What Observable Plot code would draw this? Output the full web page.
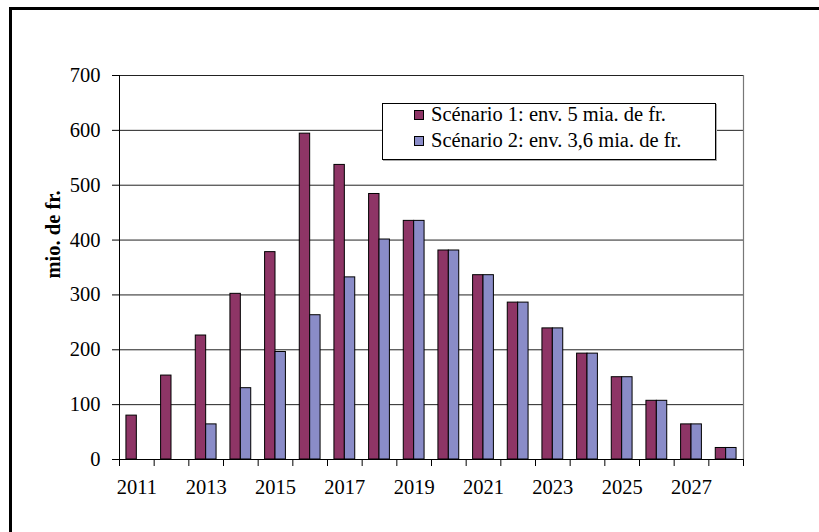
<!DOCTYPE html>
<html>
<head>
<meta charset="utf-8">
<script src="https://cdn.jsdelivr.net/npm/d3@7"></script>
<script src="https://cdn.jsdelivr.net/npm/@observablehq/plot@0.6"></script>
<style>
  html, body { margin: 0; padding: 0; background: #fff; overflow: hidden; }
  #chart { position: relative; width: 819px; height: 532px; overflow: hidden; }
  #frame { position: absolute; left: 9px; top: 7px; width: 900px; height: 600px;
           border-top: 3px solid #000; border-left: 3px solid #000; pointer-events: none; }
  #legend { position: absolute; left: 0; top: 0; pointer-events: none; }
</style>
</head>
<body>
<div id="chart"><div id="frame"></div></div>
<script>
// Annual amounts (mio. de fr.) for the two scenarios
const years = [2011, 2012, 2013, 2014, 2015, 2016, 2017, 2018, 2019,
               2020, 2021, 2022, 2023, 2024, 2025, 2026, 2027, 2028];
const scenario1 = [80, 153, 226, 302, 378, 594, 537, 484, 435,
                   381, 336, 286, 239, 193, 150, 107, 64, 21];
const scenario2 = [0, 0, 64, 130, 196, 263, 332, 401, 435,
                   381, 336, 286, 239, 193, 150, 107, 64, 21];
const seriesNames = ["Scénario 1: env. 5 mia. de fr.", "Scénario 2: env. 3,6 mia. de fr."];
const seriesColors = ["#8e3566", "#8a8cc8"];
const yTicks = [0, 100, 200, 300, 400, 500, 600, 700];
const xLabelYears = [2011, 2013, 2015, 2017, 2019, 2021, 2023, 2025, 2027];
const yLabel = "mio. de fr.";

const font = "'Liberation Serif', 'Times New Roman', serif";
const half = 0.3; // width of one bar, as a fraction of a year slot

const rows1 = years.map((year, i) => ({year, value: scenario1[i]}));
const rows2 = years.map((year, i) => ({year, value: scenario2[i]})).filter(d => d.value > 0);
const boundaries = [...years.map(y => y - 0.5), years[years.length - 1] + 0.5];
const xDomain = [years[0] - 0.5, years[years.length - 1] + 0.5];

const chart = Plot.plot({
  width: 819,
  height: 532,
  marginLeft: 119,
  marginRight: 76,
  marginTop: 75,
  marginBottom: 73,
  style: {fontFamily: font, fontSize: "20.5px", background: "transparent", color: "#000"},
  x: {type: "linear", domain: xDomain},
  y: {domain: [0, 700]},
  marks: [
    Plot.ruleY(yTicks.filter(v => v > 0), {stroke: "#222", strokeWidth: 1}),
    Plot.ruleX([xDomain[1]], {stroke: "#777", strokeWidth: 1.2}),
    Plot.rectY(rows1, {x1: d => d.year - half, x2: d => d.year, y: "value",
                       fill: seriesColors[0], stroke: "#000", strokeWidth: 1}),
    Plot.rectY(rows2, {x1: d => d.year, x2: d => d.year + half, y: "value",
                       fill: seriesColors[1], stroke: "#000", strokeWidth: 1}),
    Plot.ruleX([xDomain[0]], {stroke: "#000", strokeWidth: 1}),
    Plot.ruleY([0], {stroke: "#000", strokeWidth: 1}),
    Plot.axisY({ticks: yTicks, tickSize: 7, tickPadding: 12, label: null,
                tickFormat: d => String(d), stroke: "#000"}),
    Plot.axisX({ticks: boundaries, tickSize: 7, tickFormat: () => "", label: null, stroke: "#000"}),
    Plot.axisX({ticks: xLabelYears, tickSize: 0, tickPadding: 20, label: null,
                tickFormat: d => String(d)}),
    Plot.text([yLabel], {frameAnchor: "left", dx: -66, dy: 11, rotate: -90,
                         fontWeight: "bold", fontSize: 20.5, fill: "#000"})
  ]
});

const container = document.getElementById("chart");
container.appendChild(chart);

// Legend box inside the plot area
const legend = d3.select(container).append("svg")
  .attr("id", "legend").attr("width", 819).attr("height", 532);
legend.append("rect")
  .attr("x", 383.5).attr("y", 104.5).attr("width", 333).attr("height", 56)
  .attr("fill", "none").attr("stroke", "#aaa");
legend.append("rect")
  .attr("x", 382.5).attr("y", 103.5).attr("width", 333).attr("height", 56)
  .attr("fill", "#fff").attr("stroke", "#000");
seriesNames.forEach((name, i) => {
  const base = 121 + i * 26;
  legend.append("rect")
    .attr("x", 414.5).attr("y", base - 10.5).attr("width", 9).attr("height", 9)
    .attr("fill", seriesColors[i]).attr("stroke", "#000");
  legend.append("text")
    .attr("x", 431).attr("y", base)
    .attr("font-family", font).attr("font-size", 20.5)
    .attr("fill", "#000")
    .text(name);
});
</script>
</body>
</html>
